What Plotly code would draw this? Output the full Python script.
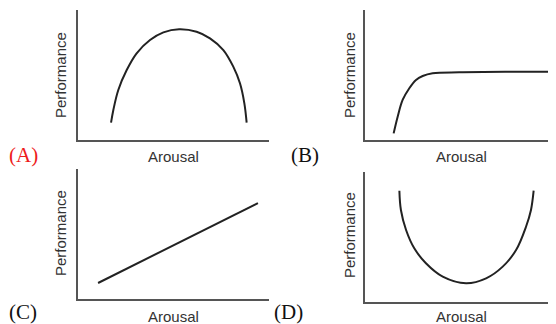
import plotly.graph_objects as go

# The page body has an 8px default margin; the figure is sized and laid out to fit.
OFF = 8
W, H = 556 - OFF, 324 - OFF

# Panel A: inverted U
a_arousal = [1.73, 1.85, 2.11, 2.55, 3.07, 3.77, 4.47, 5.29, 6.21, 6.91, 7.61, 8.13, 8.48, 8.71, 8.83]
a_perf = [1.33, 2.31, 3.85, 5.38, 6.67, 7.69, 8.28, 8.52, 8.33, 7.82, 6.92, 5.64, 4.36, 2.82, 1.33]

# Panel B: rise then plateau
b_arousal = [1.50, 1.71, 1.97, 2.32, 2.67, 3.02, 3.54, 4.93, 7.55, 10.0]
b_perf = [0.51, 1.79, 3.08, 3.98, 4.62, 4.92, 5.13, 5.21, 5.25, 5.25]

# Panel C: linear
c_arousal = [1.05, 9.42]
c_perf = [1.23, 7.38]

# Panel D: U shape
d_arousal = [1.80, 1.88, 2.15, 2.58, 3.19, 4.07, 5.29, 6.34, 7.21, 7.91, 8.43, 8.69, 8.83]
d_perf = [8.56, 7.08, 5.54, 4.13, 2.98, 1.95, 1.44, 1.82, 2.72, 4.00, 5.79, 7.08, 8.56]

panel_labels = ["(A)", "(B)", "(C)", "(D)"]
x_title = "Arousal"
y_title = "Performance"


def px_x(p):
    return (p - OFF) / W


def px_y(p):
    return 1 - (p - OFF) / H


panels = [
    ((78, 269), (140, 10), a_arousal, a_perf),
    ((365, 556), (140, 10), b_arousal, b_perf),
    ((78, 269), (299, 169), c_arousal, c_perf),
    ((365, 556), (302, 172), d_arousal, d_perf),
]

fig = go.Figure()
layout = dict(
    width=W, height=H,
    margin=dict(l=0, r=0, t=0, b=0),
    paper_bgcolor="white", plot_bgcolor="white",
    showlegend=False,
)

axis_common = dict(
    range=[0, 10], showgrid=False, zeroline=False, showticklabels=False,
    ticks="", showline=True, linecolor="#555555", linewidth=1.5, mirror=False,
    fixedrange=True,
)

for i, ((x0, x1), (yb, yt), xs, ys) in enumerate(panels, start=1):
    xa = "x" if i == 1 else f"x{i}"
    ya = "y" if i == 1 else f"y{i}"
    fig.add_trace(go.Scatter(
        x=xs, y=ys, mode="lines", xaxis=xa, yaxis=ya,
        line=dict(color="#222222", width=2, shape="spline", smoothing=1.0),
        hoverinfo="skip", cliponaxis=False,
    ))
    layout[f"xaxis{'' if i == 1 else i}"] = dict(
        axis_common, domain=[px_x(x0), min(1.0, px_x(x1))], anchor=ya)
    layout[f"yaxis{'' if i == 1 else i}"] = dict(
        axis_common, domain=[px_y(yb), px_y(yt)], anchor=xa)

fig.update_layout(**layout)

label_font = dict(family="Liberation Sans, Arial, sans-serif", size=15, color="#333333")
tag_font = dict(family="Liberation Serif, Times New Roman, serif", size=21, color="#111111")

ann = []
ann_pos = [
    (60, 75, 173, 156, 23, 155, "#ee1c1c"),
    (349, 75, 461, 156, 305, 155, "#111111"),
    (60, 233, 173, 316, 23, 312, "#111111"),
    (349, 235, 461, 316, 288, 312, "#111111"),
]
for (py_x, py_y, ax_, ay_, tx, ty, tc), tag in zip(ann_pos, panel_labels):
    ann.append(dict(x=px_x(py_x), y=px_y(py_y), xref="paper", yref="paper",
                    text=y_title, textangle=-90, showarrow=False,
                    font=label_font, xanchor="center", yanchor="middle"))
    ann.append(dict(x=px_x(ax_), y=px_y(ay_), xref="paper", yref="paper",
                    text=x_title, showarrow=False,
                    font=label_font, xanchor="center", yanchor="middle"))
    ann.append(dict(x=px_x(tx), y=px_y(ty), xref="paper", yref="paper",
                    text=tag, showarrow=False,
                    font=dict(tag_font, color=tc), xanchor="center", yanchor="middle"))

fig.update_layout(annotations=ann)
fig.write_html("out.html")
